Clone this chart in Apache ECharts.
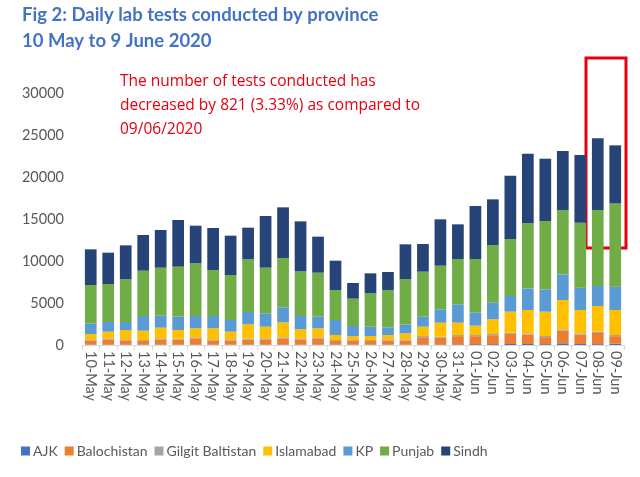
<!DOCTYPE html>
<html>
<head>
<meta charset="utf-8">
<script src="https://cdn.jsdelivr.net/npm/echarts@6/dist/echarts.min.js"></script>
<style>
  html, body { margin: 0; padding: 0; background: #fff; }
  #chart { width: 640px; height: 477px; }
</style>
</head>
<body>
<div id="chart"></div>
<script>
const days = ["10-May","11-May","12-May","13-May","14-May","15-May","16-May","17-May","18-May","19-May",
  "20-May","21-May","22-May","23-May","24-May","25-May","26-May","27-May","28-May","29-May","30-May",
  "31-May","01-Jun","02-Jun","03-Jun","04-Jun","05-Jun","06-Jun","07-Jun","08-Jun","09-Jun"];

const ajk = [40,50,40,40,50,40,50,40,40,50,40,50,40,50,40,40,40,40,40,60,60,80,100,100,120,120,100,200,120,100,150];
const balochistan = [520,620,520,440,620,590,740,520,520,580,630,740,630,740,440,520,440,520,500,860,800,970,950,1060,1200,1120,830,1500,1120,1330,900];
const gilgit = [115,124,115,115,124,124,123,115,115,124,124,123,124,123,115,115,115,115,135,151,132,140,140,149,148,149,141,165,149,157,140];
const islamabad = [635,793,1111,1111,1269,1032,1071,1309,912,1706,1388,1785,1071,1071,595,400,476,515,714,1111,1667,1469,1112,1746,2500,2777,2897,3492,2777,3056,2976];
const kp = [1269,1151,952,1746,1469,1587,1468,1468,1389,1468,1588,1786,1587,1389,1786,1190,1111,913,1071,1191,1587,2182,1587,1984,1865,2580,2659,3055,2659,2380,2778];
const punjab = [4564,4524,5079,5397,5674,5952,6270,5476,5357,6270,5436,5873,5318,5238,3571,3255,3969,4444,5397,5357,5198,5397,6349,6865,6785,7737,8134,7658,7738,9047,9920];
const sindh = [4246,3730,4048,4246,4484,5556,4484,5000,4683,3770,6151,6032,5952,4286,3493,1865,2380,2143,4127,3293,5516,4127,6309,5436,7539,8293,7420,7024,8055,8532,6904];

const names = ["AJK","Balochistan","Gilgit Baltistan","Islamabad","KP","Punjab","Sindh"];
const colors = ["#4472C4","#ED7D31","#A5A5A5","#FFC000","#5B9BD5","#70AD47","#264478"];
const values = [ajk, balochistan, gilgit, islamabad, kp, punjab, sindh];

const chart = echarts.init(document.getElementById("chart"));
const option = {
  animation: false,
  color: colors,
  title: {
    text: "Fig 2: Daily lab tests conducted by province\n10 May to 9 June 2020",
    left: 17,
    top: -3,
    textStyle: {
      color: "#4472C4",
      fontFamily: "Lato",
      fontWeight: "bold",
      fontSize: 18.5,
      lineHeight: 26
    }
  },
  legend: {
    bottom: 14,
    left: 16,
    itemWidth: 9,
    itemHeight: 9,
    itemGap: 7,
    icon: "rect",
    textStyle: { color: "#595959", fontSize: 14, fontFamily: "Lato", padding: [0, 0, 0, -2] },
    data: names
  },
  grid: { left: 82, right: 16, top: 93, bottom: 132 },
  xAxis: {
    type: "category",
    data: days,
    axisLine: { lineStyle: { color: "#D9D9D9" } },
    axisTick: { show: true, lineStyle: { color: "#D9D9D9" } },
    axisLabel: { rotate: -90, interval: 0, color: "#595959", fontSize: 14.5, fontFamily: "Lato", margin: 6 }
  },
  yAxis: {
    type: "value",
    min: 0,
    max: 30000,
    interval: 5000,
    axisLine: { show: false },
    axisTick: { show: false },
    splitLine: { show: false },
    axisLabel: { color: "#595959", fontSize: 14.5, fontFamily: "Lato", margin: 18, formatter: v => String(v) }
  },
  series: names.map((n, i) => ({
    name: n,
    type: "bar",
    stack: "total",
    barCategoryGap: "33%",
    data: values[i]
  })),
  graphic: [
    {
      type: "text",
      left: 120,
      top: 70,
      style: {
        text: "The number of tests conducted has\ndecreased by 821 (3.33%) as compared to\n09/06/2020",
        fill: "#E3000F",
        font: "15.5px 'Open Sans'",
        lineHeight: 24
      }
    },
    {
      type: "rect",
      shape: { x: 586, y: 58, width: 40, height: 190 },
      style: { fill: "none", stroke: "#E3000F", lineWidth: 3 }
    }
  ]
};
chart.setOption(option);
</script>
</body>
</html>
